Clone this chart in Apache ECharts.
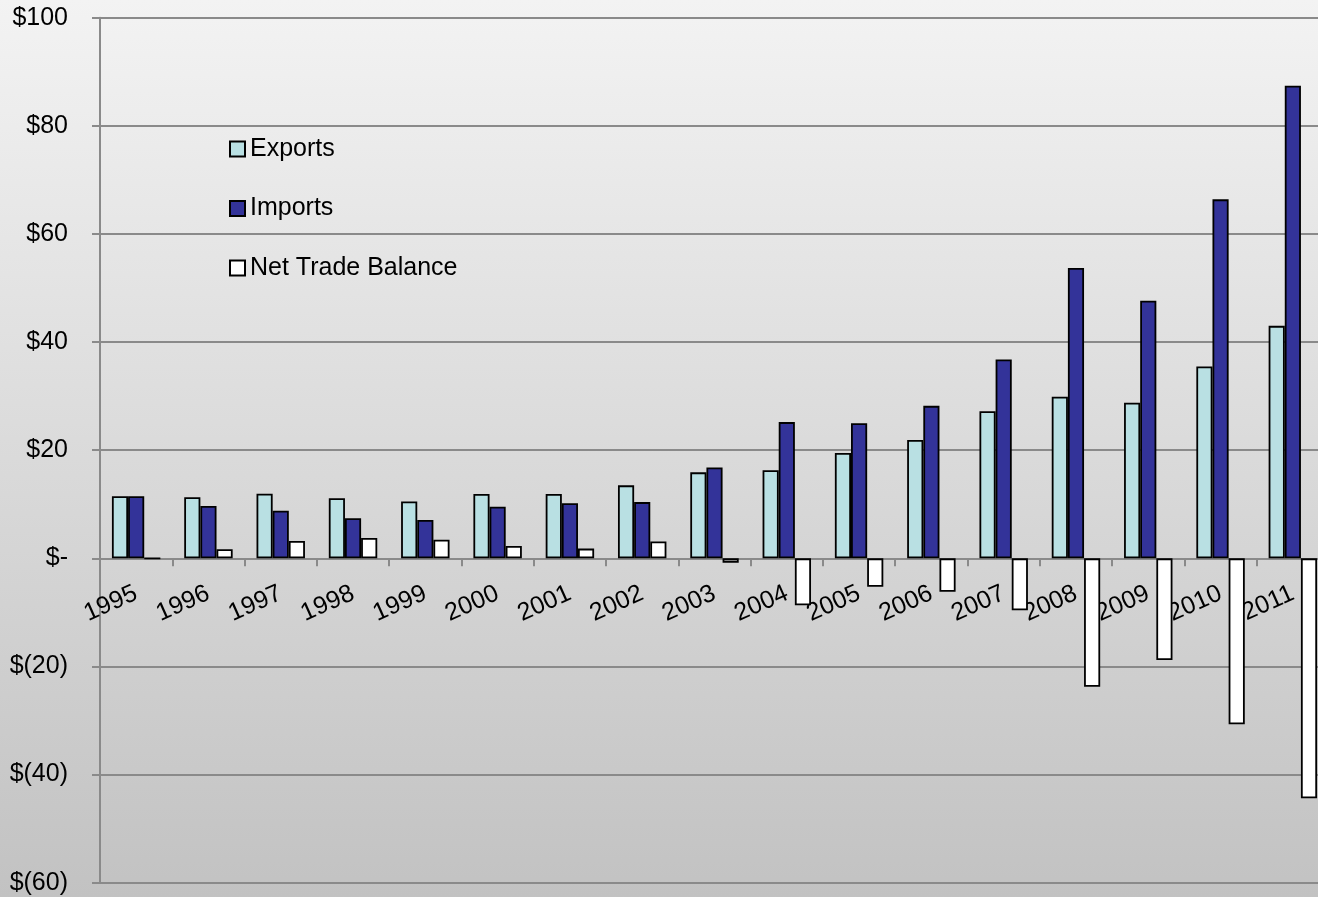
<!DOCTYPE html>
<html>
<head>
<meta charset="utf-8">
<script src="https://cdn.jsdelivr.net/npm/echarts@6/dist/echarts.min.js"></script>
<style>
html,body{margin:0;padding:0;}
#chart{width:1318px;height:897px;}
</style>
</head>
<body>
<div id="chart"></div>
<script>
const years = ['1995','1996','1997','1998','1999','2000','2001','2002','2003','2004','2005','2006','2007','2008','2009','2010','2011'];
const exportsData = [11.5, 11.3, 11.95, 11.1, 10.5, 11.9, 11.9, 13.5, 15.9, 16.3, 19.5, 21.9, 27.2, 29.9, 28.8, 35.5, 43.0];
const importsData = [11.5, 9.7, 8.8, 7.4, 7.1, 9.55, 10.2, 10.4, 16.8, 25.2, 25.0, 28.2, 36.8, 53.7, 47.65, 66.4, 87.4];
const netData = [0, 1.7, 3.2, 3.75, 3.45, 2.3, 1.8, 3.1, -0.8, -8.7, -5.25, -6.2, -9.6, -23.75, -18.8, -30.7, -44.4];
const yTickValues = [-60, -40, -20, 0, 20, 40, 60, 80, 100];
const yTickLabels = ['$(60)', '$(40)', '$(20)', '$-', '$20', '$40', '$60', '$80', '$100'];

const chart = echarts.init(document.getElementById('chart'));
const font = 'Liberation Sans, Arial, sans-serif';
const border = {borderColor: '#000', borderWidth: 1.8};
const gridTop = 17.7, gridBottom = 14.3;
const plotH = 897 - gridTop - gridBottom;
const yMin = -60, yMax = 100;
// distance from bottom of grid to the zero line, through the y scale
const zeroOffset = plotH * (0 - yMin) / (yMax - yMin);

chart.setOption({
  animation: false,
  backgroundColor: {
    type: 'linear', x: 0, y: 0, x2: 0, y2: 1,
    colorStops: [{offset: 0, color: '#f3f3f3'}, {offset: 1, color: '#c2c2c2'}]
  },
  textStyle: {fontFamily: font},
  legend: {
    orient: 'vertical',
    left: 229, top: 134, padding: 0,
    itemWidth: 15, itemHeight: 15, itemGap: 29.5,
    icon: 'rect',
    textStyle: {fontSize: 25, color: '#000', lineHeight: 30, fontFamily: font},
    data: ['Exports', 'Imports', 'Net Trade Balance']
  },
  grid: {left: 100, right: -11, top: gridTop, bottom: gridBottom, containLabel: false, outerBoundsMode: 'none'},
  xAxis: {
    type: 'category',
    data: years,
    boundaryGap: true,
    position: 'bottom',
    offset: -zeroOffset,
    axisLine: {onZero: false, lineStyle: {color: '#8a8a8a', width: 2}},
    axisTick: {show: true, length: 8, lineStyle: {color: '#8a8a8a', width: 2}},
    axisLabel: {interval: 0, rotate: 24, margin: 34, fontSize: 25, color: '#000', fontFamily: font, hideOverlap: false},
    splitLine: {show: false}
  },
  yAxis: {
    type: 'value',
    min: yMin, max: yMax, interval: 20,
    axisLine: {show: true, lineStyle: {color: '#8a8a8a', width: 2}},
    axisTick: {show: true, length: 8, lineStyle: {color: '#8a8a8a', width: 2}},
    splitLine: {show: true, lineStyle: {color: '#8a8a8a', width: 2}},
    axisLabel: {
      margin: 32, fontSize: 25, color: '#000', fontFamily: font,
      formatter: function (v) {
        const i = yTickValues.indexOf(v);
        return i >= 0 ? yTickLabels[i] : '';
      }
    }
  },
  series: [
    {name: 'Exports', type: 'bar', data: exportsData, barGap: '0%', barCategoryGap: '33%',
      itemStyle: Object.assign({color: '#b9e0e3'}, border)},
    {name: 'Imports', type: 'bar', data: importsData, barGap: '0%', barCategoryGap: '33%',
      itemStyle: Object.assign({color: '#333399'}, border)},
    {name: 'Net Trade Balance', type: 'bar', data: netData, barGap: '0%', barCategoryGap: '33%',
      itemStyle: Object.assign({color: '#ffffff'}, border)}
  ]
});
</script>
</body>
</html>
